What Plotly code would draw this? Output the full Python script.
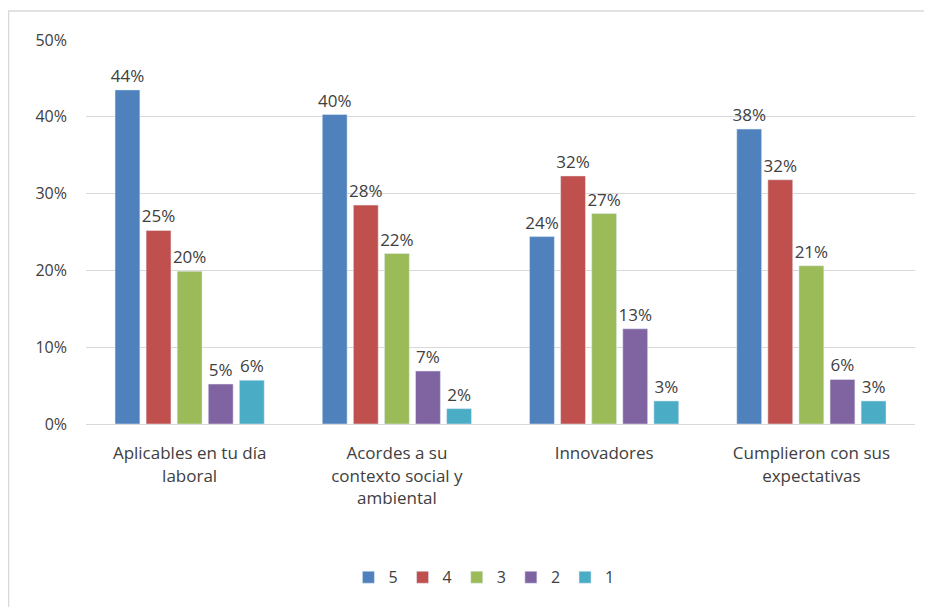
import plotly.graph_objects as go

categorias = ["Aplicables en tu día<br>laboral", "Acordes a su<br>contexto social y<br>ambiental",
              "Innovadores", "Cumplieron con sus<br>expectativas"]
series = ["5", "4", "3", "2", "1"]
valores = {
    "5": [43.5, 40.3, 24.4, 38.4],
    "4": [25.2, 28.5, 32.3, 31.8],
    "3": [19.9, 22.2, 27.4, 20.6],
    "2": [5.2, 6.9, 12.4, 5.8],
    "1": [5.7, 2.0, 3.0, 3.0],
}
etiquetas = {
    "5": ["44%", "40%", "24%", "38%"],
    "4": ["25%", "28%", "32%", "32%"],
    "3": ["20%", "22%", "27%", "21%"],
    "2": ["5%", "7%", "13%", "6%"],
    "1": ["6%", "2%", "3%", "3%"],
}
colores = ["#4F81BD", "#C0504D", "#9BBB59", "#8064A2", "#4BACC6"]

fig = go.Figure()
for s, c in zip(series, colores):
    fig.add_trace(go.Bar(
        x=categorias, y=valores[s], name=s, marker_color=c,
        text=etiquetas[s], textposition="outside", constraintext="none",
        cliponaxis=False,
        textfont=dict(size=17, color="#404040"),
    ))

fig.update_layout(
    width=932, height=607,
    barmode="group", bargap=0.25, bargroupgap=0.2,
    plot_bgcolor="white", paper_bgcolor="white",
    font=dict(family="Open Sans, Liberation Sans, sans-serif", color="#404040", size=16),
    margin=dict(l=78, r=25, t=32, b=191),
    legend=dict(orientation="h", x=0.48, xanchor="center", y=-0.355, yanchor="top",
                font=dict(size=16), traceorder="normal"),
    yaxis=dict(range=[0, 50], dtick=10, ticksuffix="%", showgrid=True,
               gridcolor="#D9D9D9", zeroline=False, ticks="", ticklabelstandoff=18,
               tickfont=dict(size=16, color="#404040")),
    xaxis=dict(showline=True, linecolor="#D9D9D9", tickfont=dict(size=17, color="#404040"),
               ticks="", ticklabelstandoff=14),
    shapes=[dict(type="rect", xref="paper", yref="paper",
                 x0=-0.0935, x1=1.2, y0=-0.7, y1=1.0755,
                 line=dict(color="#D9D9D9", width=1.5))],
)

fig.write_html("out.html")
